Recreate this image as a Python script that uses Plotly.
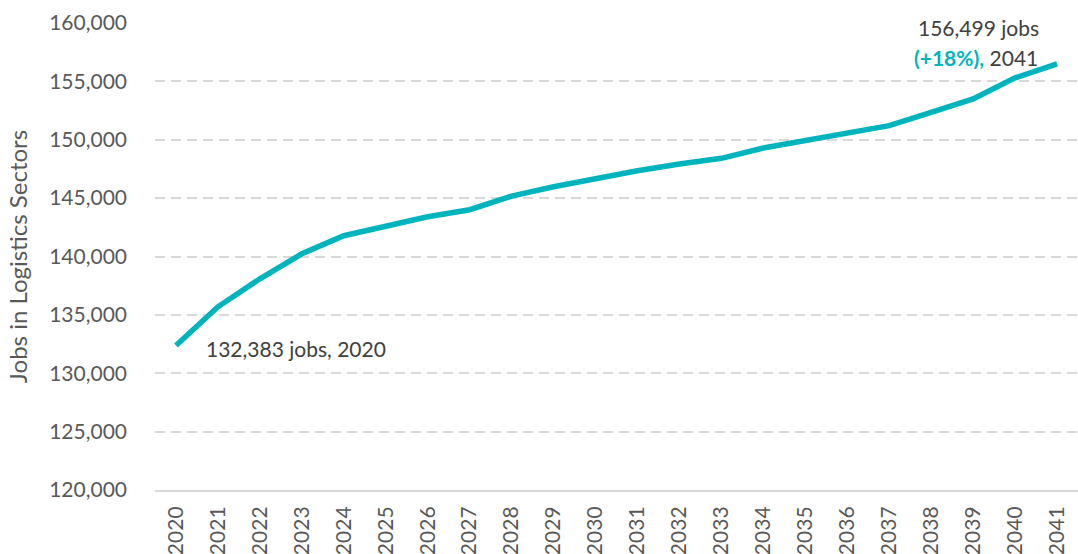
import plotly.graph_objects as go

# Projected jobs in logistics sectors, 2020-2041
years = list(range(2020, 2042))
jobs = [132383, 135690, 138090, 140230, 141780, 142530, 143400, 144006,
        145170, 145978, 146690, 147350, 147925, 148410, 149297, 149920,
        150550, 151210, 152350, 153500, 155300, 156499]
y_ticks = [120000, 125000, 130000, 135000, 140000, 145000, 150000, 155000, 160000]

TEAL = "#00B4BD"
DARK = "#404040"
GREY = "#595959"
FONT = "Lato, 'Open Sans', sans-serif"

fig = go.Figure()
fig.add_trace(go.Scatter(
    x=years, y=jobs, mode="lines",
    line=dict(color=TEAL, width=5.5),
    hoverinfo="skip", showlegend=False,
))

start_label = f"{jobs[0]:,} jobs, {years[0]}"
end_line1 = f"{jobs[-1]:,} jobs"
pct = round((jobs[-1] - jobs[0]) / jobs[0] * 100)
end_line2 = f"<b><span style='color:{TEAL}'>(+{pct}%),</span></b> {years[-1]}"

fig.add_annotation(x=years[0], y=jobs[0], text=start_label, showarrow=False,
                   xanchor="left", yanchor="middle", xshift=28, yshift=-3,
                   font=dict(family=FONT, size=21, color=DARK))
fig.add_annotation(x=years[-1], y=159620, text=end_line1, showarrow=False,
                   xanchor="center", yanchor="middle", xshift=-79,
                   font=dict(family=FONT, size=21, color=DARK))
fig.add_annotation(x=years[-1], y=157040, text=end_line2, showarrow=False,
                   xanchor="center", yanchor="middle", xshift=-81,
                   font=dict(family=FONT, size=21, color=DARK))

fig.update_layout(
    width=1078, height=554,
    margin=dict(l=155, r=0, t=23, b=64),
    plot_bgcolor="white", paper_bgcolor="white",
    font=dict(family=FONT, color=GREY),
    xaxis=dict(
        range=[2019.5, 2041.5], tickvals=years, ticktext=[str(y) for y in years],
        tickangle=-90, tickfont=dict(size=21, color=GREY),
        showgrid=False, zeroline=False,
        showline=True, linecolor="#D9D9D9", linewidth=2,
        ticks="", ticklabelstandoff=6,
    ),
    yaxis=dict(
        range=[120000, 160000], tickvals=y_ticks,
        tickformat=",d", tickfont=dict(size=21, color=GREY),
        showgrid=True, gridcolor="#D9D9D9", gridwidth=1.5, griddash="10px,6px",
        zeroline=False, showline=False, ticks="", ticklabelstandoff=27,
        title=dict(text="Jobs in Logistics Sectors", font=dict(size=24, color=GREY),
                   standoff=14),
    ),
)

fig.write_html("out.html")
